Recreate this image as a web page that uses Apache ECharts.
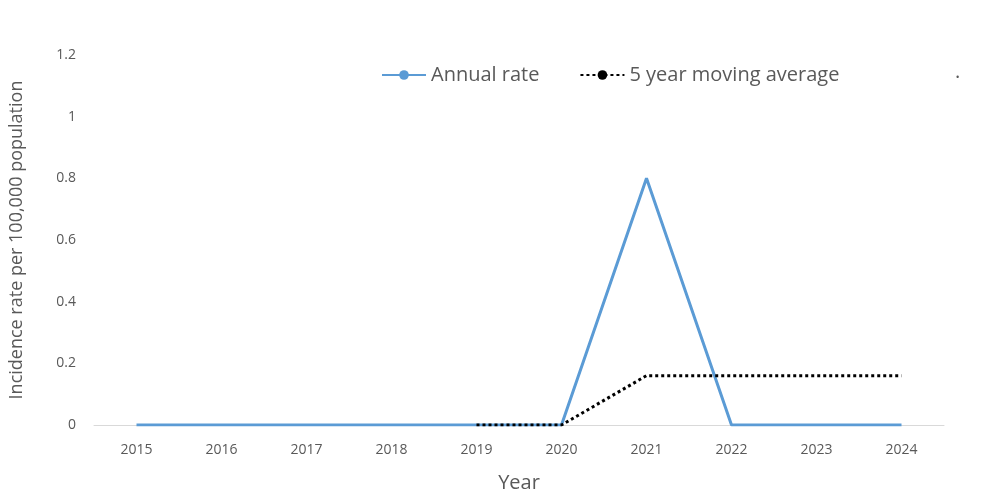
<!DOCTYPE html>
<html><head><meta charset="utf-8">
<script src="https://cdn.jsdelivr.net/npm/echarts@6/dist/echarts.min.js"></script>
<style>html,body{margin:0;padding:0;background:#fff}#c{width:1000px;height:499px}</style>
</head><body><div id="c"></div>
<script>
const years = ['2015','2016','2017','2018','2019','2020','2021','2022','2023','2024'];
const annualRate = [0,0,0,0,0,0,0.8,0,0,0];
const movingAvg = [null,null,null,null,0,0,0.16,0.16,0.16,0.16];
const yTicks = [0,0.2,0.4,0.6,0.8,1,1.2];
const font = 'Open Sans';
const chart = echarts.init(document.getElementById('c'));
chart.setOption({
  animation:false,
  textStyle:{fontFamily:font},
  grid:{left:86,right:56,top:55,bottom:74},
  legend:{top:60,left:376,itemGap:40,itemWidth:44,itemHeight:12,
    textStyle:{fontSize:20,color:'#595959',fontFamily:font},
    data:['Annual rate','5 year moving average']},
  graphic:[{type:'text',left:955,top:62,style:{text:'.',fontSize:20,fill:'#595959',fontFamily:font}}],
  xAxis:{type:'category',data:years,boundaryGap:true,name:'Year',nameLocation:'middle',nameGap:48,
    nameTextStyle:{fontSize:20,color:'#595959'},
    axisLine:{lineStyle:{color:'#d9d9d9'}},axisTick:{show:false},
    axisLabel:{fontSize:14,color:'#595959',margin:18}},
  yAxis:{type:'value',min:0,max:1.2,interval:0.2,name:'Incidence rate per 100,000 population',
    nameLocation:'middle',nameGap:68,nameTextStyle:{fontSize:18,color:'#595959'},
    splitLine:{show:false},axisLine:{show:false},
    axisLabel:{fontSize:14,color:'#595959',margin:18,formatter:v=>yTicks.includes(+v.toFixed(1))?String(+v.toFixed(1)):''}},
  series:[
    {name:'Annual rate',type:'line',data:annualRate,symbol:'none',lineStyle:{color:'#5b9bd5',width:3},itemStyle:{color:'#5b9bd5'}},
    {name:'5 year moving average',type:'line',data:movingAvg,symbol:'none',lineStyle:{color:'#000',width:3,type:[3,3]},itemStyle:{color:'#000'}}
  ]
});
</script></body></html>
